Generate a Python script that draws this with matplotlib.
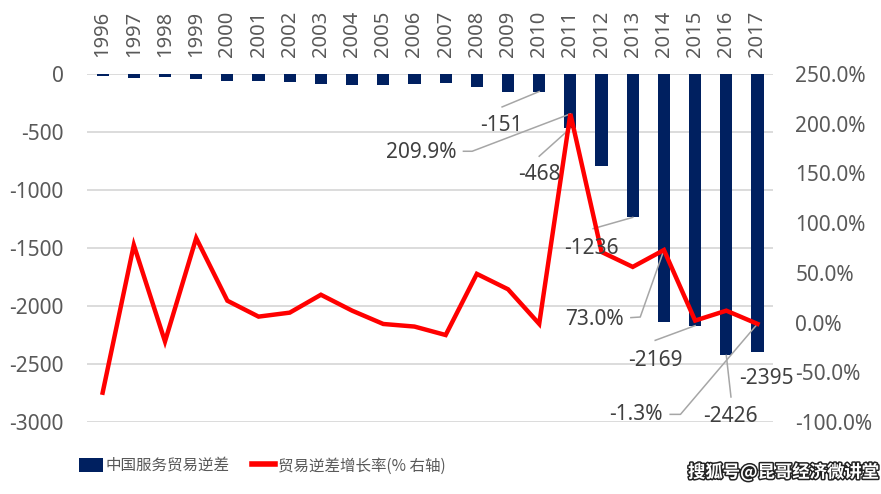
import matplotlib
matplotlib.use("Agg")
import matplotlib.pyplot as plt
import matplotlib.patheffects as pe
from matplotlib.ticker import FuncFormatter, MultipleLocator

plt.rcParams['font.family'] = ['Noto Sans', 'Noto Sans CJK SC', 'DejaVu Sans']
plt.rcParams['axes.unicode_minus'] = False

# ---- data ----
years = [str(y) for y in range(1996, 2018)]
deficit = [-17, -37, -26, -46, -63, -63, -71, -86, -97, -97, -86, -77,
           -112, -155, -151, -468, -796, -1236, -2138, -2169, -2426, -2395]
growth = [-70.5, 78, -19, 85, 22, 6, 10, 28, 12, -1.4, -4, -12.5,
          49, 33.5, -1.3, 209.9, 71, 56, 73.0, 2, 12, -1.3]
bar_label_years = ['2010', '2011', '2013', '2015', '2016', '2017']
pct_label_years = ['2011', '2014', '2017']
series_names = ['中国服务贸易逆差', '贸易逆差增长率(% 右轴)']

NAVY = '#002060'
RED = '#FF0000'
GRAY_TXT = '#595959'
GRID = '#d9d9d9'
LEADER = '#a6a6a6'

fig = plt.figure(figsize=(8.81, 4.94), dpi=100)
ax = fig.add_axes([0.0988, 0.1457, 0.7787, 0.7045])
ax2 = ax.twinx()

x = list(range(len(years)))
bars = ax.bar(x, deficit, width=0.39, color=NAVY, zorder=3, label=series_names[0])
line, = ax2.plot(x, growth, color=RED, lw=3.2, zorder=4, label=series_names[1],
                 solid_joinstyle='miter')

ax.set_xlim(-0.5, len(years) - 0.5)
ax.set_ylim(-3000, 0)
ax.yaxis.set_major_locator(MultipleLocator(500))
ax2.set_ylim(-100, 250)
ax2.yaxis.set_major_locator(MultipleLocator(50))
ax2.yaxis.set_major_formatter(FuncFormatter(lambda v, p: f'{v:.1f}%'))

ax.grid(axis='y', color=GRID, lw=1.3, zorder=0)
ax.set_axisbelow(True)
for a in (ax, ax2):
    for s in a.spines.values():
        s.set_visible(False)

ax.set_xticks(x)
ax.set_xticklabels(years, rotation=90, fontsize=14.5, color=GRAY_TXT)
ax.tick_params(axis='x', length=0, pad=12, top=True, labeltop=True,
               bottom=False, labelbottom=False)
ax.tick_params(axis='y', length=0, pad=17, labelsize=15, labelcolor=GRAY_TXT)
ax2.tick_params(axis='y', length=0, pad=16, labelsize=15, labelcolor=GRAY_TXT)

# ---- data labels with leader lines ----
idx = {y: i for i, y in enumerate(years)}
bar_label_layout = {
    '2010': ((12.79, -443), [(12.81, -284)]),
    '2011': ((14.0, -868), [(14.0, -709)]),
    '2013': ((15.69, -1500), [(15.73, -1333)]),
    '2015': ((17.72, -2468), [(17.72, -2296)]),
    '2016': ((20.14, -2950), [(20.15, -2784)]),
    '2017': ((21.28, -2629), None),
}
for yr in bar_label_years:
    i = idx[yr]
    (tx, ty), pts = bar_label_layout[yr]
    ax2.text(tx, ty, f'{deficit[i]}', transform=ax.transData, ha='center', va='center',
             fontsize=15, color='#404040', zorder=6)
    if pts:
        xs = [p[0] for p in pts] + [i]
        ys = [p[1] for p in pts] + [deficit[i]]
        ax.plot(xs, ys, color=LEADER, lw=1.1, zorder=5)

pct_label_layout = {
    '2011': ((10.22, -675), [(11.57, -666), (11.85, -666)]),
    '2014': ((15.77, -2113), [(16.94, -2100), (17.24, -2095)]),
    '2017': ((17.1, -2934), [(18.2, -2934), (18.53, -2934)]),
}
for yr in pct_label_years:
    i = idx[yr]
    (tx, ty), pts = pct_label_layout[yr]
    ax2.text(tx, ty, f'{growth[i]:.1f}%', transform=ax.transData, ha='center', va='center',
             fontsize=15, color='#404040', zorder=6)
    disp = ax2.transData.transform((i, growth[i]))
    ex, ey = ax.transData.inverted().transform(disp)
    xs = [p[0] for p in pts] + [ex]
    ys = [p[1] for p in pts] + [ey]
    ax.plot(xs, ys, color=LEADER, lw=1.1, zorder=5)

# ---- legend ----
leg = fig.legend(handles=[bars, line], labels=series_names, loc='center',
                 bbox_to_anchor=(0.298, 0.057), ncol=2, frameon=False,
                 prop={'family': ['Noto Sans CJK SC', 'DejaVu Sans'], 'size': 11.2},
                 handlelength=1.5, handleheight=1.0, handletextpad=0.2, columnspacing=1.4)
for t in leg.get_texts():
    t.set_color(GRAY_TXT)
for l in leg.get_lines():
    l.set_linewidth(4)

# ---- watermark ----
fig.text(0.998, 0.025, '搜狐号@昆哥经济微讲堂', ha='right', va='bottom', fontsize=12.5,
         fontweight='bold', color='white', family=['Noto Sans CJK SC', 'DejaVu Sans'],
         path_effects=[pe.withStroke(linewidth=2.2, foreground='#222222')])

fig.savefig('out.png', dpi=100)
